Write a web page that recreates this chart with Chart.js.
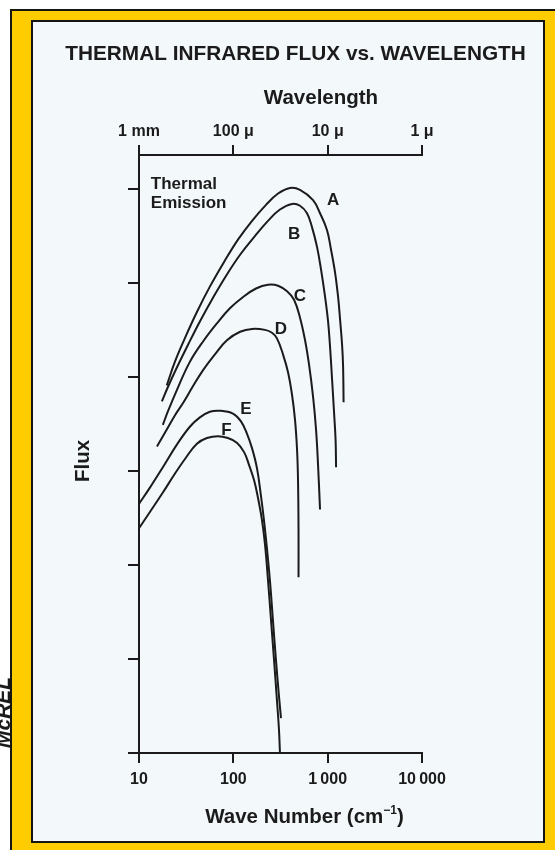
<!DOCTYPE html>
<html>
<head>
<meta charset="utf-8">
<title>Thermal infrared flux vs. wavelength</title>
<script src="https://cdn.jsdelivr.net/npm/chart.js@4.4.1/dist/chart.umd.min.js"></script>
<style>
  html, body { margin: 0; padding: 0; background: #fff; }
  body { width: 555px; height: 850px; position: relative; overflow: hidden; }
  #frame { position: absolute; left: 10px; top: 9px; width: 600px; height: 900px; background: #ffcc00; border: 2px solid #151515; }
  #panel { position: absolute; left: 31px; top: 20px; width: 510px; height: 819px; background: #f3f8fb; border: 2px solid #151515; }
  #chart { position: absolute; left: 0; top: 0; }
</style>
</head>
<body>
<div id="frame"></div>
<div id="panel"></div>
<canvas id="chart" width="555" height="850"></canvas>
<script>
const INK = '#1b1b1b';
const FONT = "'Liberation Sans', Arial, Helvetica, sans-serif";

// axis ticks
const waveTicks = [10, 100, 1000, 10000];
const waveLabels = ['10', '100', '1\u2009000', '10\u2009000'];
const lengthLabels = ['1 mm', '100 \u03bc', '10 \u03bc', '1 \u03bc'];
const fluxTicks = [0, 1, 2, 3, 4, 5, 6];
const fluxMax = 6.36;

// curves: wave number (cm-1) and flux (arbitrary units)
const aWave = [19.7, 24.0, 30.6, 41.1, 56.4, 79.5, 112, 158, 222, 298, 399, 509, 700, 830, 985, 1087, 1198, 1290, 1354, 1422, 1457, 1475];
const aFlux = [3.91, 4.16, 4.41, 4.69, 4.96, 5.22, 5.46, 5.66, 5.83, 5.95, 6.01, 5.99, 5.88, 5.74, 5.56, 5.35, 5.11, 4.85, 4.61, 4.34, 4.11, 3.73];

const bWave = [17.5, 20.2, 25.2, 33.0, 44.2, 60.7, 85.5, 120, 170, 233, 312, 419, 509, 604, 683, 772, 851, 939, 1010, 1060, 1114, 1169, 1213, 1228];
const bFlux = [3.74, 3.89, 4.10, 4.34, 4.59, 4.84, 5.09, 5.31, 5.50, 5.66, 5.78, 5.84, 5.82, 5.74, 5.59, 5.38, 5.14, 4.85, 4.59, 4.32, 3.97, 3.62, 3.33, 3.04];

const cWave = [17.9, 20.2, 25.2, 34.6, 48.8, 67.0, 92.0, 127, 174, 233, 298, 371, 440, 509, 576, 635, 700, 753, 791, 830];
const cFlux = [3.49, 3.63, 3.86, 4.16, 4.39, 4.57, 4.73, 4.85, 4.94, 4.98, 4.97, 4.91, 4.82, 4.63, 4.39, 4.13, 3.79, 3.44, 3.06, 2.59];

const dWave = [15.5, 19.7, 24.0, 29.2, 37.3, 47.6, 63.8, 85.5, 118, 158, 217, 257, 290, 336, 380, 419, 451, 474, 485, 491, 491];
const dFlux = [3.26, 3.44, 3.59, 3.72, 3.90, 4.07, 4.24, 4.39, 4.48, 4.51, 4.50, 4.47, 4.41, 4.24, 4.05, 3.81, 3.54, 3.22, 2.90, 2.37, 1.87];

const eWave = [10, 13.0, 17.9, 25.2, 34.6, 44.2, 56.4, 72.1, 99.0, 120, 139, 158, 178, 196, 211, 227, 245, 263, 283, 305, 320];
const eFlux = [2.65, 2.82, 3.04, 3.28, 3.47, 3.57, 3.63, 3.64, 3.61, 3.53, 3.40, 3.24, 3.03, 2.74, 2.48, 2.18, 1.82, 1.41, 0.99, 0.60, 0.37];

const fWave = [10, 13.0, 17.9, 24.0, 31.4, 41.1, 52.5, 68.6, 87.6, 109, 130, 146, 166, 182, 201, 217, 233, 251, 270, 290, 305, 312];
const fFlux = [2.39, 2.56, 2.77, 2.97, 3.14, 3.29, 3.35, 3.37, 3.35, 3.30, 3.20, 3.07, 2.90, 2.72, 2.48, 2.21, 1.84, 1.41, 0.99, 0.56, 0.24, 0];

// curve letters (baseline position)
const curveNames = ['A', 'B', 'C', 'D', 'E', 'F'];
const nameWave = [1141, 440, 509, 320, 136, 84.5];
const nameFlux = [5.83, 5.47, 4.81, 4.46, 3.61, 3.38];

const noteLines = ['Thermal', 'Emission'];
const noteWave = 13.35;
const noteFlux = 6.0;

const curves = [[aWave, aFlux], [bWave, bFlux], [cWave, cFlux], [dWave, dFlux], [eWave, eFlux], [fWave, fFlux]];

function series(wave, flux) {
  return wave.map((w, i) => ({ x: w, y: flux[i] }));
}

function fixTicks(values) {
  return scale => { scale.ticks = values.map(v => ({ value: v })); };
}

const axisGrid = { drawOnChartArea: false, drawTicks: true, tickLength: 10, lineWidth: 2, color: INK };
const axisBorder = { display: true, width: 2, color: INK };
const tickFont = { size: 16, weight: 'bold', family: FONT };

// texts that are not part of the axes
const annotate = {
  id: 'annotate',
  afterDraw(chart) {
    const { ctx, scales: { x, y } } = chart;
    ctx.save();
    ctx.fillStyle = INK;
    ctx.textBaseline = 'alphabetic';

    ctx.font = 'bold 20.8px ' + FONT;
    ctx.textAlign = 'center';
    ctx.fillText('THERMAL INFRARED FLUX vs. WAVELENGTH', 295.5, 59.5);
    ctx.font = 'bold 20.5px ' + FONT;
    ctx.fillText('Wavelength', 321, 103.5);

    // Wave Number (cm-1) with a superscript
    const partA = 'Wave Number (cm', partB = '\u22121', partC = ')';
    const wA = ctx.measureText(partA).width;
    const wC = ctx.measureText(partC).width;
    ctx.font = 'bold 12px ' + FONT;
    const wB = ctx.measureText(partB).width;
    const left = 304.5 - (wA + wB + wC) / 2;
    ctx.textAlign = 'left';
    ctx.font = 'bold 20.5px ' + FONT;
    ctx.fillText(partA, left, 823);
    ctx.font = 'bold 12px ' + FONT;
    ctx.fillText(partB, left + wA, 814);
    ctx.font = 'bold 20.5px ' + FONT;
    ctx.fillText(partC, left + wA + wB, 823);

    // Flux
    ctx.save();
    ctx.textAlign = 'center';
    ctx.translate(89, 461);
    ctx.rotate(-Math.PI / 2);
    ctx.fillText('Flux', 0, 0);
    ctx.restore();

    // side credit
    ctx.save();
    ctx.font = 'italic bold 21px ' + FONT;
    ctx.textAlign = 'left';
    ctx.translate(10, 748);
    ctx.rotate(-Math.PI / 2);
    ctx.fillText('McREL', 0, 0);
    ctx.restore();

    // curve letters
    ctx.font = 'bold 17px ' + FONT;
    ctx.textAlign = 'center';
    curveNames.forEach((n, i) => {
      ctx.fillText(n, x.getPixelForValue(nameWave[i]), y.getPixelForValue(nameFlux[i]));
    });

    ctx.textAlign = 'left';
    noteLines.forEach((t, i) => {
      ctx.fillText(t, x.getPixelForValue(noteWave), y.getPixelForValue(noteFlux) + i * 19.5);
    });
    ctx.restore();
  }
};

new Chart(document.getElementById('chart'), {
  type: 'line',
  data: {
    datasets: curves.map(([w, f]) => ({
      data: series(w, f),
      borderColor: INK,
      borderWidth: 2,
      pointRadius: 0,
      tension: 0.4,
      fill: false,
      xAxisID: 'x',
      yAxisID: 'y'
    }))
  },
  options: {
    responsive: false,
    devicePixelRatio: 1,
    animation: false,
    layout: { padding: { left: 0, top: 0, right: 133, bottom: 0 } },
    plugins: { legend: { display: false }, tooltip: { enabled: false }, title: { display: false } },
    scales: {
      x: {
        type: 'logarithmic',
        position: 'bottom',
        min: 10,
        max: 10000,
        afterBuildTicks: fixTicks(waveTicks),
        afterFit: s => { s.height = 97; },
        grid: axisGrid,
        border: axisBorder,
        ticks: {
          padding: 7,
          maxRotation: 0,
          autoSkip: false,
          color: INK,
          font: tickFont,
          callback: (v, i) => waveLabels[i]
        }
      },
      x2: {
        type: 'logarithmic',
        position: 'top',
        min: 10,
        max: 10000,
        afterBuildTicks: fixTicks(waveTicks),
        afterFit: s => { s.height = 155; },
        grid: axisGrid,
        border: axisBorder,
        ticks: {
          padding: 4,
          maxRotation: 0,
          autoSkip: false,
          color: INK,
          font: tickFont,
          callback: (v, i) => lengthLabels[i]
        }
      },
      y: {
        type: 'linear',
        position: 'left',
        min: 0,
        max: fluxMax,
        afterBuildTicks: fixTicks(fluxTicks),
        afterFit: s => { s.width = 139; },
        grid: { drawOnChartArea: false, drawTicks: true, tickLength: 11, lineWidth: 2, color: INK },
        border: axisBorder,
        ticks: { display: false }
      }
    }
  },
  plugins: [annotate]
});
</script>
</body>
</html>
